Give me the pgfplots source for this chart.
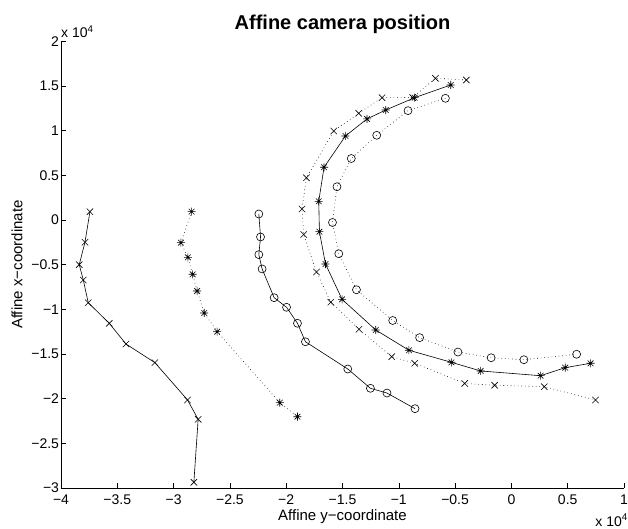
\documentclass[border=0pt]{standalone}
\usepackage{fontspec}
\setmainfont{Liberation Sans}
\usepackage{pgfplots}
\pgfplotsset{compat=1.18}
\pgfdeclareplotmark{star8}{%
  \pgfpathmoveto{\pgfqpoint{-\pgfplotmarksize}{0pt}}\pgfpathlineto{\pgfqpoint{\pgfplotmarksize}{0pt}}%
  \pgfpathmoveto{\pgfqpoint{0pt}{-\pgfplotmarksize}}\pgfpathlineto{\pgfqpoint{0pt}{\pgfplotmarksize}}%
  \pgfpathmoveto{\pgfqpoint{-0.7071\pgfplotmarksize}{-0.7071\pgfplotmarksize}}\pgfpathlineto{\pgfqpoint{0.7071\pgfplotmarksize}{0.7071\pgfplotmarksize}}%
  \pgfpathmoveto{\pgfqpoint{-0.7071\pgfplotmarksize}{0.7071\pgfplotmarksize}}\pgfpathlineto{\pgfqpoint{0.7071\pgfplotmarksize}{-0.7071\pgfplotmarksize}}%
  \pgfusepathqstroke}
\begin{document}
\begin{tikzpicture}
\begin{axis}[
  scale only axis, width=563pt, height=446.7pt,
  xmin=-4, xmax=1, ymin=-3, ymax=2,
  axis lines=left, axis line style={-, line width=0.6pt},
  tick align=inside, major tick length=5pt,
  tick style={line width=0.6pt, black},
  xtick={-4,-3.5,-3,-2.5,-2,-1.5,-1,-0.5,0,0.5,1},
  xticklabels={−4,−3.5,−3,−2.5,−2,−1.5,−1,−0.5,0,0.5,1},
  ytick={-3,-2.5,-2,-1.5,-1,-0.5,0,0.5,1,1.5,2},
  yticklabels={−3,−2.5,−2,−1.5,−1,−0.5,0,0.5,1,1.5,2},
  tick label style={font=\fontsize{14}{14}\selectfont},
  xticklabel style={yshift=-3pt},
  yticklabel style={xshift=1.5pt},
  title={Affine camera position},
  title style={font=\bfseries\fontsize{20}{20}\selectfont, at={(axis description cs:0.5,1)}, anchor=base, yshift=6pt},
  xlabel={Affine y−coordinate},
  ylabel={Affine x−coordinate},
  label style={font=\fontsize{15}{15}\selectfont},
  xlabel style={at={(axis description cs:0.5,0)}, anchor=center, yshift=-29pt},
  ylabel style={at={(axis description cs:0,0.5)}, anchor=center, yshift=44pt},
  every axis plot/.append style={black, line width=0.6pt},
  mark size=4pt,
]
\coordinate (bl) at (rel axis cs:0,0);
\coordinate (tr) at (rel axis cs:1,1);
% series A: solid, x
\addplot[solid, mark=x, mark size=4.5pt, mark options={solid}] coordinates {
(-3.743,0.093) (-3.787,-0.249) (-3.838,-0.500) (-3.802,-0.672) (-3.758,-0.926) (-3.571,-1.157) (-3.423,-1.388) (-3.166,-1.597) (-2.876,-2.015) (-2.782,-2.231) (-2.820,-2.936)};
% series B: dotted, star
\addplot[dash pattern=on 0.6pt off 3pt, mark=star8, mark options={solid}] coordinates {
(-2.840,0.093) (-2.935,-0.254) (-2.873,-0.418) (-2.831,-0.608) (-2.791,-0.795) (-2.728,-1.041) (-2.613,-1.250) (-2.057,-2.045) (-1.900,-2.202)};
% series C: solid, circle
\addplot[solid, mark=o, mark options={solid}] coordinates {
(-2.243,0.067) (-2.228,-0.190) (-2.243,-0.388) (-2.214,-0.548) (-2.107,-0.870) (-1.997,-0.977) (-1.900,-1.156) (-1.829,-1.363) (-1.453,-1.668) (-1.252,-1.884) (-1.105,-1.937) (-0.856,-2.112)};
% series D: solid, star
\addplot[solid, mark=star8, mark options={solid}] coordinates {
(-0.539,1.511) (-0.859,1.369) (-1.116,1.231) (-1.282,1.131) (-1.474,0.940) (-1.664,0.590) (-1.711,0.209) (-1.705,-0.131) (-1.651,-0.493) (-1.504,-0.888) (-1.205,-1.231) (-0.910,-1.458) (-0.533,-1.593) (-0.273,-1.690) (0.259,-1.743) (0.478,-1.653) (0.703,-1.604)};
% series E: dotted, x
\addplot[dash pattern=on 0.6pt off 3pt, mark=x, mark size=4.5pt, mark options={solid}] coordinates {
(-0.400,1.567) (-0.675,1.586) (-0.877,1.371) (-1.149,1.369) (-1.356,1.194) (-1.578,0.996) (-1.820,0.472) (-1.860,0.123) (-1.844,-0.163) (-1.731,-0.582) (-1.604,-0.920) (-1.353,-1.223) (-1.063,-1.530) (-0.859,-1.604) (-0.415,-1.830) (-0.149,-1.850) (0.292,-1.866) (0.747,-2.015)};
% series F: dotted, circle
\addplot[dash pattern=on 0.6pt off 3pt, mark=o, mark options={solid}] coordinates {
(-0.586,1.362) (-0.918,1.224) (-1.196,0.948) (-1.422,0.688) (-1.549,0.372) (-1.589,-0.028) (-1.533,-0.378) (-1.376,-0.781) (-1.054,-1.125) (-0.815,-1.317) (-0.475,-1.478) (-0.180,-1.542) (0.111,-1.564) (0.579,-1.503)};
\end{axis}
\node[anchor=base west, font=\fontsize{14}{14}\selectfont, inner sep=0pt] at ([shift={(0pt,4pt)}]bl |- tr) {x 10\textsuperscript{4}};
\node[anchor=base east, font=\fontsize{14}{14}\selectfont, inner sep=0pt] at ([shift={(4pt,-38pt)}]tr |- bl) {x 10\textsuperscript{4}};
\pgfresetboundingbox
\path ([shift={(-61pt,-41pt)}]bl) rectangle ([shift={(4pt,41.3pt)}]tr);
\end{tikzpicture}
\end{document}
